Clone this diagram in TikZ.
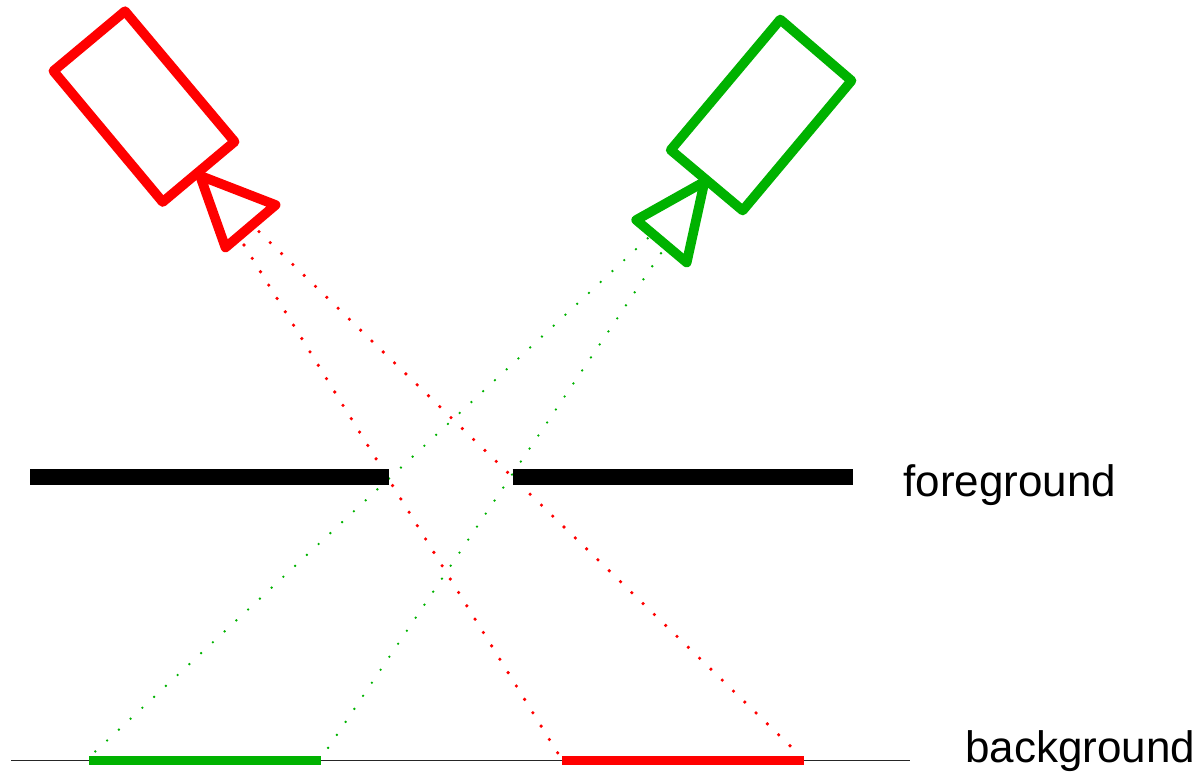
\documentclass[tikz,border=0pt]{standalone}
\usepackage{fontspec}
\setmainfont{Liberation Sans}
\definecolor{camgreen}{RGB}{0,178,0}
\definecolor{camred}{RGB}{255,0,0}
\tikzset{
  x=0.02cm, y=-0.02cm,
  camera/.style={line width=5.5pt, line join=round, line cap=round},
  redray/.style={camred, line width=2.05pt, line cap=round, dash pattern=on 0pt off #1},
  greenray/.style={camgreen, line width=1.5pt, line cap=round, dash pattern=on 0pt off #1},
  wall/.style={black, line width=9.07pt},
  ground/.style={black!85, line width=0.9pt},
  patch/.style={line width=5.4pt},
  lab/.style={anchor=base west, inner sep=0pt, font=\fontsize{25.05pt}{28pt}\selectfont}
}
\begin{document}
\begin{tikzpicture}
\useasboundingbox (0,0) rectangle (1198,776);
% ray end points
\coordinate (rl0) at (244,245);   \coordinate (rl1) at (559.6,756);
\coordinate (rr0) at (259,231.7); \coordinate (rr1) at (792.7,748.4);
\coordinate (gl0) at (647.7,238.3); \coordinate (gl1) at (92.6,754);
\coordinate (gr0) at (661,253.3);   \coordinate (gr1) at (326.1,750.8);
% walls and ground end points
\coordinate (fa0) at (30,477.3);  \coordinate (fa1) at (389,477.3);
\coordinate (fb0) at (512.5,477.3); \coordinate (fb1) at (853,477.3);
\coordinate (g0) at (11,760.7);   \coordinate (g1) at (910,760.7);
\coordinate (pg0) at (89,760.7);  \coordinate (pg1) at (321,760.7);
\coordinate (pr0) at (562,760.7); \coordinate (pr1) at (804,760.7);
% rays
\draw[redray=8.94pt] (rl0) -- (rl1);
\draw[redray=8.95pt] (rr0) -- (rr1);
\draw[greenray=9.13pt] (gl0) -- (gl1);
\draw[greenray=8.93pt] (gr0) -- (gr1);
% walls
\draw[wall] (fa0) -- (fa1);
\draw[wall] (fb0) -- (fb1);
\draw[ground] (g0) -- (g1);
\draw[patch, camgreen] (pg0) -- (pg1);
\draw[patch, camred] (pr0) -- (pr1);
% red camera
\draw[camera, camred] (125,11.2) -- (234.6,141.7) -- (162.7,202) -- (53.4,71) -- cycle;
\draw[camera, camred] (200,175.7) -- (275.6,205) -- (225.5,247.5) -- cycle;
% green camera
\draw[camera, camgreen] (780.3,19.5) -- (851.5,80.7) -- (742.7,210.5) -- (670.7,150) -- cycle;
\draw[camera, camgreen] (704.5,181.7) -- (636.2,220) -- (686.7,262.5) -- cycle;
% labels
\node[lab] (fg) at (903,497) {foreground};
\node[lab] (bg) at (965,763) {background};
\end{tikzpicture}
\end{document}
